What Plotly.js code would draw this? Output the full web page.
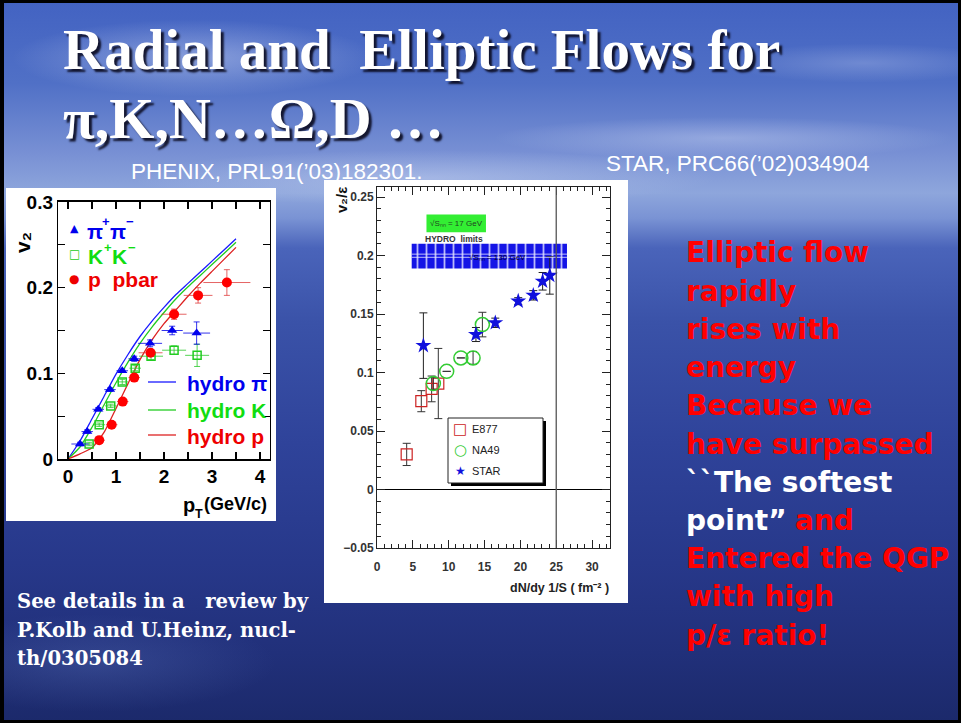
<!DOCTYPE html>
<html>
<head>
<meta charset="utf-8">
<script src="https://cdn.plot.ly/plotly-3.0.1.min.js"></script>
<style>
  html, body { margin: 0; padding: 0; background: #000; }
  #slide {
    position: absolute; left: 0; top: 0; width: 961px; height: 723px;
    box-sizing: border-box; border: 3px solid #000; border-left-width: 4px;
    background:
      radial-gradient(ellipse 260px 55px at 190px 55px, rgba(235,240,255,0.38), rgba(235,240,255,0) 70%),
      radial-gradient(ellipse 330px 30px at 720px 135px, rgba(235,240,255,0.30), rgba(235,240,255,0) 70%),
      radial-gradient(ellipse 200px 28px at 860px 60px, rgba(235,240,255,0.22), rgba(235,240,255,0) 70%),
      radial-gradient(ellipse 420px 40px at 420px 175px, rgba(235,240,255,0.30), rgba(235,240,255,0) 70%),
      radial-gradient(ellipse 260px 70px at 90px 660px, rgba(120,150,220,0.22), rgba(120,150,220,0) 70%),
      linear-gradient(to bottom, #4363c2 0px, #5070c6 80px, #7890d4 150px, #8ea6dc 190px, #7a93d4 215px,
                      #4a64ba 245px, #3a52a8 320px, #2f439a 440px, #27388a 560px, #21307a 650px, #1b296a 723px);
  }
  #chart { position: absolute; left: 0; top: 0; width: 961px; height: 723px; }
</style>
</head>
<body>
<div id="slide"></div>
<div id="chart"></div>
<script>
// ---- PHENIX: v2 versus pT for identified hadrons ----
const pionPt    = [0.25, 0.40, 0.63, 0.875, 1.13, 1.38, 1.71, 2.17, 2.68];
const pionV2    = [0.0175, 0.032, 0.058, 0.081, 0.103, 0.117, 0.135, 0.150, 0.147];
const pionPtErr = [0.18, 0.12, 0.12, 0.12, 0.12, 0.12, 0.25, 0.22, 0.28];
const pionV2Err = [0.002, 0.002, 0.002, 0.002, 0.002, 0.003, 0.004, 0.005, 0.013];

const kaonPt    = [0.44, 0.65, 0.89, 1.13, 1.40, 1.73, 2.21, 2.69];
const kaonV2    = [0.0175, 0.040, 0.062, 0.090, 0.106, 0.120, 0.127, 0.121];
const kaonPtErr = [0.12, 0.12, 0.12, 0.12, 0.12, 0.25, 0.25, 0.25];
const kaonV2Err = [0.002, 0.002, 0.002, 0.003, 0.003, 0.004, 0.005, 0.013];

const protonPt    = [0.65, 0.91, 1.14, 1.38, 1.72, 2.21, 2.71, 3.31];
const protonV2    = [0.022, 0.040, 0.067, 0.095, 0.124, 0.169, 0.191, 0.206];
const protonPtErr = [0.12, 0.12, 0.12, 0.12, 0.25, 0.26, 0.30, 0.49];
const protonV2Err = [0.002, 0.002, 0.003, 0.003, 0.004, 0.006, 0.009, 0.015];

// hydrodynamic curves
const hydroPt = [0, 0.25, 0.5, 0.75, 1.0, 1.25, 1.5, 1.75, 2.0, 2.25, 2.5, 2.75, 3.0, 3.25, 3.5];
const hydroPi = [0, 0.021, 0.047, 0.073, 0.099, 0.122, 0.143, 0.161, 0.177, 0.192, 0.205, 0.218, 0.231, 0.244, 0.257];
const hydroK  = [0, 0.014, 0.037, 0.063, 0.089, 0.113, 0.135, 0.154, 0.171, 0.187, 0.201, 0.214, 0.227, 0.240, 0.253];
const hydroP  = [0, 0.006, 0.013, 0.031, 0.059, 0.088, 0.116, 0.139, 0.158, 0.174, 0.190, 0.205, 0.219, 0.233, 0.247];

// ---- STAR compilation: v2/eps versus dN/dy 1/S ----
const e877X   = [4.14, 6.18, 7.62, 8.55];
const e877Y   = [0.030, 0.0755, 0.086, 0.0906];
const e877Err = [0.0095, 0.009, 0.011, 0.030];

const na49X   = [7.86, 9.72, 11.7, 13.4, 14.7];
const na49Y   = [0.0906, 0.101, 0.1125, 0.1125, 0.141];
const na49Err = [0.005, null, null, 0.0055, 0.0105];

const starX   = [6.47, 13.8, 16.5, 19.7, 21.8, 23.1, 24.1];
const starY   = [0.123, 0.1325, 0.1425, 0.161, 0.166, 0.178, 0.183];
const starErr = [0.028, 0.006, 0.004, 0.003, 0.004, 0.0075, 0.016];

// hydro limit bands: [x from, x to], [v2/eps low, high]
const hydro17X  = [6.9, 15.2];
const hydro17Y  = [0.220, 0.235];
const hydro130X = [4.84, 26.5];
const hydro130Y = [0.189, 0.210];
const softestPointX = 25;

// ---- page geometry helpers (pixels -> paper fractions) ----
const W = 961, H = 723;
const X = p => p / W;
const Y = p => 1 - p / H;
const SANS = 'Liberation Sans, Arial, sans-serif';
const SERIF = 'Liberation Serif, Times New Roman, serif';
const DJSERIF = 'DejaVu Serif, serif';
const DJSANS = 'DejaVu Sans, Verdana, sans-serif';

function note(text, x, y, font, extra) {
  return Object.assign({
    text: text, x: X(x), y: Y(y), xref: 'paper', yref: 'paper',
    showarrow: false, xanchor: 'left', yanchor: 'middle', borderpad: 0, font: font
  }, extra || {});
}

const BLUE = '#0000ee', GREEN = '#11dd11', RED = '#ee0000';

const traces = [
  // hydro curves (left panel)
  { x: hydroPt, y: hydroPi, mode: 'lines', line: { color: '#1a1aff', width: 1.3, shape: 'spline', smoothing: 0.6 }, xaxis: 'x', yaxis: 'y', hoverinfo: 'skip' },
  { x: hydroPt, y: hydroK,  mode: 'lines', line: { color: '#22cc22', width: 1.3, shape: 'spline', smoothing: 0.6 }, xaxis: 'x', yaxis: 'y', hoverinfo: 'skip' },
  { x: hydroPt, y: hydroP,  mode: 'lines', line: { color: '#dd2222', width: 1.3, shape: 'spline', smoothing: 0.6 }, xaxis: 'x', yaxis: 'y', hoverinfo: 'skip' },
  // data points (left panel)
  { x: kaonPt, y: kaonV2, mode: 'markers', xaxis: 'x', yaxis: 'y',
    marker: { symbol: 'square-open', size: 8, color: '#22cc22', line: { width: 1.5 } },
    error_x: { type: 'data', array: kaonPtErr, color: 'rgba(40,200,40,0.8)', thickness: 1, width: 0 },
    error_y: { type: 'data', array: kaonV2Err, color: 'rgba(40,200,40,0.8)', thickness: 1, width: 3 } },
  { x: protonPt, y: protonV2, mode: 'markers', xaxis: 'x', yaxis: 'y',
    marker: { symbol: 'circle', size: 10, color: '#ff0000' },
    error_x: { type: 'data', array: protonPtErr, color: 'rgba(220,50,50,0.75)', thickness: 1, width: 0 },
    error_y: { type: 'data', array: protonV2Err, color: 'rgba(220,50,50,0.75)', thickness: 1, width: 3 } },
  { x: pionPt, y: pionV2, mode: 'markers', xaxis: 'x', yaxis: 'y',
    marker: { symbol: 'triangle-up', size: 9, color: BLUE },
    error_x: { type: 'data', array: pionPtErr, color: 'rgba(0,0,230,0.8)', thickness: 1, width: 0 },
    error_y: { type: 'data', array: pionV2Err, color: 'rgba(0,0,230,0.8)', thickness: 1, width: 3 } },

  // hydro limit band at 130 GeV (right panel)
  { type: 'bar', xaxis: 'x2', yaxis: 'y2', hoverinfo: 'skip',
    x: [(hydro130X[0] + hydro130X[1]) / 2], width: [hydro130X[1] - hydro130X[0]],
    base: [hydro130Y[0]], y: [hydro130Y[1] - hydro130Y[0]],
    marker: { color: '#1414e6', line: { width: 0 },
              pattern: { shape: '|', bgcolor: '#1414e6', fgcolor: 'rgba(225,225,255,0.8)', size: 9, solidity: 0.2 } } },

  // data points (right panel)
  { x: e877X, y: e877Y, mode: 'markers', xaxis: 'x2', yaxis: 'y2',
    marker: { symbol: 'square-open', size: 11, color: '#cc2222', line: { width: 1.2 } },
    error_y: { type: 'data', array: e877Err, color: '#333', thickness: 1, width: 4 } },
  { x: na49X, y: na49Y, mode: 'markers', xaxis: 'x2', yaxis: 'y2',
    marker: { symbol: 'circle-open', size: 14, color: '#33cc33', line: { width: 1.5 } },
    error_y: { type: 'data', array: na49Err, color: '#333', thickness: 1, width: 4 } },
  { x: starX, y: starY, mode: 'markers', xaxis: 'x2', yaxis: 'y2',
    marker: { symbol: 'star', size: 12, color: '#1010dd' },
    error_y: { type: 'data', array: starErr, color: '#222', thickness: 1, width: 4 } }
];

const leftTickFont = { family: SANS, size: 19, color: '#000', weight: 'bold' };
const rightTickFont = { family: SANS, size: 12, color: '#333', weight: 'bold' };

// commentary at the right, one entry per line: [text, colour]
const comment = [
  ['Elliptic flow', '#ff0000'],
  ['rapidly', '#ff0000'],
  ['rises with', '#ff0000'],
  ['energy', '#ff0000'],
  ['Because we', '#ff0000'],
  ['have surpassed', '#ff0000'],
  ['``The softest', '#ffffff'],
  ['point\u201d', '#ffffff'],
  ['Entered the QGP', '#ff0000'],
  ['with high', '#ff0000'],
  ['p/\u03b5 ratio!', '#ff0000']
];
const commentFont = c => ({ family: DJSANS, size: 28, color: c, weight: 'bold' });
const legFont = (c, s) => ({ family: SANS, size: s || 21, color: c, weight: 'bold' });

const layout = {
  width: W, height: H,
  margin: { l: 0, r: 0, t: 0, b: 0, pad: 0 },
  paper_bgcolor: 'rgba(0,0,0,0)',
  plot_bgcolor: '#ffffff',
  showlegend: false,
  xaxis: {
    domain: [X(58.4), X(269.6)], range: [-0.2, 4.2], anchor: 'y',
    showline: true, linecolor: '#000', linewidth: 1.6, mirror: 'ticks',
    ticks: 'inside', ticklen: 7, tickwidth: 1.2, tickcolor: '#000',
    tick0: 0, dtick: 1, minor: { dtick: 0.5, ticks: 'inside', ticklen: 7, tickcolor: '#000', tickwidth: 1.2 },
    tickfont: leftTickFont, showgrid: false, zeroline: false, fixedrange: true
  },
  yaxis: {
    domain: [Y(459), Y(202)], range: [0, 0.3], anchor: 'x',
    showline: true, linecolor: '#000', linewidth: 1.6, mirror: 'ticks',
    ticks: 'inside', ticklen: 7, tickwidth: 1.2, tickcolor: '#000',
    tick0: 0, dtick: 0.1, minor: { dtick: 0.05, ticks: 'inside', ticklen: 7, tickcolor: '#000', tickwidth: 1.2 },
    tickfont: leftTickFont, showgrid: false, zeroline: false, fixedrange: true
  },
  xaxis2: {
    domain: [X(377), X(610)], range: [0, 32.5], anchor: 'y2',
    showline: true, linecolor: '#222', linewidth: 1, mirror: 'ticks',
    ticks: 'inside', ticklen: 8, tickwidth: 1, tickcolor: '#222',
    tick0: 0, dtick: 5, minor: { dtick: 1, ticks: 'inside', ticklen: 4, tickcolor: '#222', tickwidth: 1 },
    tickfont: rightTickFont, ticklabelstandoff: 8, showgrid: false, zeroline: false, fixedrange: true
  },
  yaxis2: {
    domain: [Y(548), Y(187)], range: [-0.05, 0.2586], anchor: 'x2',
    showline: true, linecolor: '#222', linewidth: 1, mirror: 'ticks',
    ticks: 'inside', ticklen: 8, tickwidth: 1, tickcolor: '#222',
    tick0: 0, dtick: 0.05, minor: { dtick: 0.01, ticks: 'inside', ticklen: 4, tickcolor: '#222', tickwidth: 1 },
    tickfont: rightTickFont, showgrid: false, zeroline: true, zerolinecolor: '#000', zerolinewidth: 1, fixedrange: true
  },
  shapes: [
    // white panels behind both figures
    { type: 'rect', xref: 'paper', yref: 'paper', x0: X(6), x1: X(276), y0: Y(521), y1: Y(188), fillcolor: '#fff', line: { width: 0 }, layer: 'below' },
    { type: 'rect', xref: 'paper', yref: 'paper', x0: X(324), x1: X(628), y0: Y(603), y1: Y(180), fillcolor: '#fff', line: { width: 0 }, layer: 'below' },
    // hydro legend line samples (left panel)
    { type: 'line', xref: 'paper', yref: 'paper', x0: X(148), x1: X(176), y0: Y(382), y1: Y(382), line: { color: '#1a1aff', width: 1.3 } },
    { type: 'line', xref: 'paper', yref: 'paper', x0: X(148), x1: X(176), y0: Y(410), y1: Y(410), line: { color: '#22cc22', width: 1.3 } },
    { type: 'line', xref: 'paper', yref: 'paper', x0: X(148), x1: X(176), y0: Y(435), y1: Y(435), line: { color: '#dd2222', width: 1.3 } },
    // 17 GeV hydro limit
    { type: 'rect', xref: 'x2', yref: 'y2', x0: hydro17X[0], x1: hydro17X[1], y0: hydro17Y[0], y1: hydro17Y[1], fillcolor: '#33ee33', line: { width: 0 } },
    // light lines through the 130 GeV band
    { type: 'line', xref: 'x2', yref: 'y2', x0: hydro130X[0], x1: hydro130X[1], y0: 0.1985, y1: 0.1985, line: { color: 'rgba(230,230,255,0.8)', width: 1 } },
    { type: 'line', xref: 'x2', yref: 'y2', x0: hydro130X[0], x1: hydro130X[1], y0: 0.2012, y1: 0.2012, line: { color: 'rgba(230,230,255,0.8)', width: 1 } },
    // softest-point marker line
    { type: 'line', xref: 'x2', yref: 'y2 domain', x0: softestPointX, x1: softestPointX, y0: 0, y1: 1, line: { color: '#555', width: 1.3 } },
    // legend box with drop shadow (right panel)
    { type: 'rect', xref: 'paper', yref: 'paper', x0: X(451), x1: X(546), y0: Y(486), y1: Y(421), fillcolor: '#000', line: { width: 0 } },
    { type: 'rect', xref: 'paper', yref: 'paper', x0: X(448), x1: X(543), y0: Y(483), y1: Y(418), fillcolor: '#fff', line: { color: '#222', width: 1 } }
  ],
  annotations: [
    // slide title
    note('Radial and\u00a0\u00a0Elliptic Flows for', 62, 50,
      { family: SERIF, size: 57, color: '#ffffff', weight: 'bold', shadow: '3px 3px 2px rgba(10,10,30,0.9)' }),
    note('\u03c0,K,N\u2026\u03a9,D \u2026', 62, 119,
      { family: SERIF, size: 58, color: '#ffffff', weight: 'bold', shadow: '3px 3px 2px rgba(10,10,30,0.9)' }),
    // references
    note('PHENIX, PRL91(\u201903)182301.', 130, 171, { family: SANS, size: 22.5, color: '#ffffff' }),
    note('STAR, PRC66(\u201902)034904', 605, 164, { family: SANS, size: 22.5, color: '#ffffff' }),

    // left panel axis labels
    note('v\u2082', 22, 243, legFont('#000', 21), { textangle: -90, xanchor: 'center' }),
    note('p', 181.5, 505, legFont('#000', 20)),
    note('T', 193.5, 514, legFont('#000', 12.5)),
    note('(GeV/c)', 268, 504, legFont('#000', 18), { xanchor: 'right' }),
    // left panel legends
    note('\u25b2', 74, 228, { family: DJSANS, size: 11, color: BLUE }, { xanchor: 'center' }),
    note('\u03c0', 86, 232, legFont(BLUE)),
    note('+', 100.5, 221, legFont(BLUE, 13)),
    note('\u03c0', 109, 232, legFont(BLUE)),
    note('\u2212', 124.5, 221, legFont(BLUE, 13)),
    note('\u25a1', 74, 254, { family: DJSANS, size: 12, color: '#22cc22' }, { xanchor: 'center' }),
    note('K', 87, 256, legFont(GREEN)),
    note('+', 102.5, 247, legFont(GREEN, 13)),
    note('K', 111, 256, legFont(GREEN)),
    note('\u2212', 126.5, 247, legFont(GREEN, 13)),
    note('\u25cf', 74, 279, { family: DJSANS, size: 12, color: RED }, { xanchor: 'center' }),
    note('p\u00a0 pbar', 87, 280, legFont(RED)),
    note('hydro \u03c0', 186, 383, legFont(BLUE)),
    note('hydro K', 186, 410, legFont(GREEN)),
    note('hydro p', 186, 436, legFont(RED)),

    // right panel labels
    note('v\u2082/\u03b5', 341, 200, { family: SANS, size: 15, color: '#111', weight: 'bold' }, { textangle: -90, xanchor: 'center' }),
    note('dN/dy 1/S ( fm\u207b\u00b2 )', 610, 588, { family: SANS, size: 12.5, color: '#222', weight: 'bold' }, { xanchor: 'right' }),
    note('\u221aS\u2099\u2099 = 17 GeV', 456, 223, { family: SANS, size: 8, color: '#224422' }, { xanchor: 'center' }),
    note('HYDRO\u00a0 limits', 454, 239, { family: SANS, size: 8.5, color: '#333', weight: 'bold' }, { xanchor: 'center' }),
    note('\u221aS\u2099\u2099 = 130 GeV', 497, 257, { family: SANS, size: 8, color: '#000033' }, { xanchor: 'center' }),
    note('\u25a1', 460, 429, { family: DJSANS, size: 15, color: '#cc2222' }, { xanchor: 'center' }),
    note('E877', 471, 429, { family: SANS, size: 11, color: '#222' }),
    note('\u25cb', 460, 450, { family: DJSANS, size: 15, color: '#33cc33' }, { xanchor: 'center' }),
    note('NA49', 471, 450, { family: SANS, size: 11, color: '#222' }),
    note('\u2605', 460, 471, { family: DJSANS, size: 12, color: '#1010dd' }, { xanchor: 'center' }),
    note('STAR', 471, 471, { family: SANS, size: 11, color: '#222' }),

    // commentary (right)
    ...comment.map((c, i) => note(c[0], 685, 253 + 38.2 * i, commentFont(c[1]))),
    note('and', 794, 253 + 38.2 * 7, commentFont('#ff0000')),

    // commentary (bottom left)
    note('See details in a\u00a0\u00a0\u00a0review by', 16, 601, { family: DJSERIF, size: 19.6, color: '#ffffff', weight: 'bold' }),
    note('P.Kolb and U.Heinz, nucl-', 16, 630, { family: DJSERIF, size: 19.6, color: '#ffffff', weight: 'bold' }),
    note('th/0305084', 16, 658, { family: DJSERIF, size: 19.6, color: '#ffffff', weight: 'bold' })
  ]
};

Plotly.newPlot('chart', traces, layout, { staticPlot: true, displayModeBar: false });
</script>
</body>
</html>
